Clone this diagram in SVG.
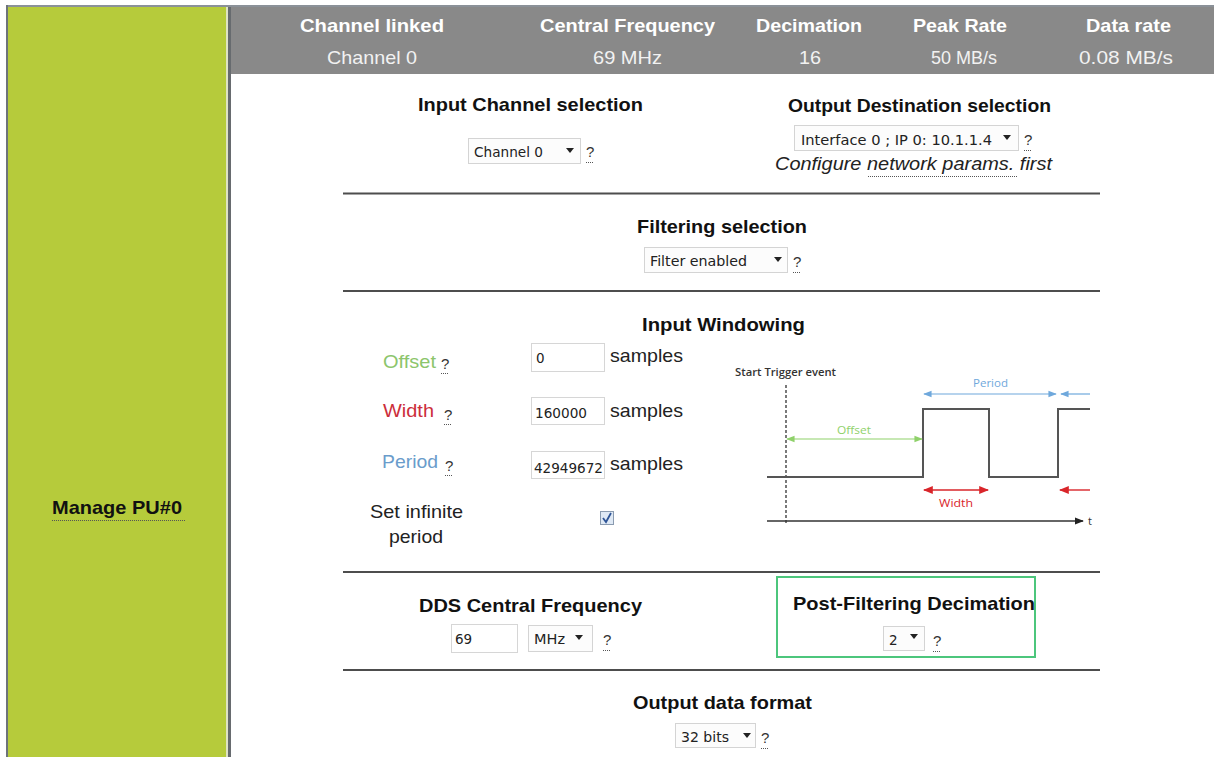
<svg xmlns="http://www.w3.org/2000/svg" width="1214" height="757" viewBox="0 0 1214 757">
<defs>
<style>
text{font-family:"Liberation Sans",Arial,sans-serif}
.hb{font-size:19px;font-weight:bold;fill:#ffffff}
.hr{font-size:19px;fill:#f2f2f2}
.ttl{font-size:19px;font-weight:bold;fill:#111}
.lbl{font-size:19px;fill:#222}
.sel{font-family:"DejaVu Sans",Tahoma,sans-serif;font-size:13.5px;fill:#222}
.q{font-size:15px;fill:#333}
.sep{stroke:#4d4d4d;stroke-width:2}
.box{fill:#fcfcfc;stroke:#d4d4d4;stroke-width:1}
.dot{stroke:#555;stroke-width:1;stroke-dasharray:1 1}
.chart{font-family:"Open Sans","DejaVu Sans",sans-serif;font-size:11px}
.sig{fill:none;stroke:#555;stroke-width:2}
</style>
<marker id="ag" viewBox="0 0 10 10" refX="9" refY="5" markerWidth="7" markerHeight="7" orient="auto-start-reverse"><path d="M0,1 L10,5 L0,9 z" fill="#8fd16a"/></marker>
<marker id="ar" viewBox="0 0 10 10" refX="9" refY="5" markerWidth="7" markerHeight="7" orient="auto-start-reverse"><path d="M0,1 L10,5 L0,9 z" fill="#d9252a"/></marker>
<marker id="ab" viewBox="0 0 10 10" refX="9" refY="5" markerWidth="7" markerHeight="7" orient="auto-start-reverse"><path d="M0,1 L10,5 L0,9 z" fill="#6fa8dc"/></marker>
<marker id="ak" viewBox="0 0 10 10" refX="9" refY="5" markerWidth="7" markerHeight="7" orient="auto"><path d="M0,1 L10,5 L0,9 z" fill="#222"/></marker>
<clipPath id="clipP"><rect x="532" y="452" width="71" height="25"/></clipPath>
</defs>
<rect x="0" y="0" width="1214" height="757" fill="#ffffff"/>
<rect x="6" y="5" width="1208" height="2" fill="#8b9198"/>
<rect x="6" y="5" width="2" height="752" fill="#6e747a"/>
<g id="side-panel">
<rect x="8" y="7" width="218" height="750" fill="#b6cb3b"/>
<rect x="226" y="7" width="2" height="750" fill="#dfe3c4"/>
<rect x="228" y="7" width="3" height="750" fill="#676b6f"/>
<text x="52" y="514" class="ttl" textLength="130" lengthAdjust="spacingAndGlyphs">Manage PU#0</text>
<line x1="52" y1="520.5" x2="185" y2="520.5" class="dot"/>
</g>
<g id="header">
<rect x="231" y="7" width="983" height="67" fill="#898989"/>
<text x="300" y="32" class="hb" textLength="144" lengthAdjust="spacingAndGlyphs">Channel linked</text>
<text x="540" y="32" class="hb" textLength="175" lengthAdjust="spacingAndGlyphs">Central Frequency</text>
<text x="756" y="32" class="hb" textLength="106" lengthAdjust="spacingAndGlyphs">Decimation</text>
<text x="913" y="32" class="hb" textLength="94" lengthAdjust="spacingAndGlyphs">Peak Rate</text>
<text x="1086" y="32" class="hb" textLength="85" lengthAdjust="spacingAndGlyphs">Data rate</text>
<text x="327" y="64" class="hr" textLength="90" lengthAdjust="spacingAndGlyphs">Channel 0</text>
<text x="593" y="64" class="hr" textLength="69" lengthAdjust="spacingAndGlyphs">69 MHz</text>
<text x="799" y="64" class="hr" textLength="22" lengthAdjust="spacingAndGlyphs">16</text>
<text x="931" y="64" class="hr" textLength="66" lengthAdjust="spacingAndGlyphs">50 MB/s</text>
<text x="1079" y="64" class="hr" textLength="94" lengthAdjust="spacingAndGlyphs">0.08 MB/s</text>
</g>
<g id="separators">
<line x1="343" y1="193.5" x2="1100" y2="193.5" class="sep"/>
<line x1="343" y1="291" x2="1100" y2="291" class="sep"/>
<line x1="343" y1="572" x2="1100" y2="572" class="sep"/>
<line x1="343" y1="670" x2="1100" y2="670" class="sep"/>
</g>
<g id="input-channel">
<text x="418" y="111" class="ttl" textLength="225" lengthAdjust="spacingAndGlyphs">Input Channel selection</text>
<rect x="468.5" y="138.5" width="112" height="25" class="box"/>
<text x="474" y="157" class="sel" textLength="69" lengthAdjust="spacingAndGlyphs">Channel 0</text>
<path d="M566,148 L574,148 L570,153 z" fill="#222"/>
<text x="586" y="157" class="q">?</text>
<line x1="586" y1="162.5" x2="594" y2="162.5" class="dot"/>
</g>
<g id="output-destination">
<text x="788" y="112" class="ttl" textLength="263" lengthAdjust="spacingAndGlyphs">Output Destination selection</text>
<rect x="794.5" y="125.5" width="224" height="25" class="box"/>
<text x="801" y="145" class="sel" textLength="191" lengthAdjust="spacingAndGlyphs">Interface 0 ; IP 0: 10.1.1.4</text>
<path d="M1003,135 L1011,135 L1007,140 z" fill="#222"/>
<text x="1024" y="145" class="q">?</text>
<line x1="1024" y1="150.5" x2="1032" y2="150.5" class="dot"/>
<text x="775" y="170" class="lbl" font-style="italic" textLength="277" lengthAdjust="spacingAndGlyphs">Configure network params. first</text>
<line x1="868" y1="176.5" x2="1017" y2="176.5" class="dot"/>
</g>
<g id="filtering">
<text x="637" y="233" class="ttl" textLength="170" lengthAdjust="spacingAndGlyphs">Filtering selection</text>
<rect x="644.5" y="247.5" width="143" height="25" class="box"/>
<text x="650" y="266" class="sel" textLength="97" lengthAdjust="spacingAndGlyphs">Filter enabled</text>
<path d="M774,257 L782,257 L778,262 z" fill="#222"/>
<text x="793" y="267" class="q">?</text>
<line x1="793" y1="272.5" x2="801" y2="272.5" class="dot"/>
</g>
<g id="input-windowing">
<text x="642" y="331" class="ttl" textLength="163" lengthAdjust="spacingAndGlyphs">Input Windowing</text>
<text x="383" y="368" class="lbl" style="fill:#8cc56c" textLength="53" lengthAdjust="spacingAndGlyphs">Offset</text>
<text x="441" y="369" class="q">?</text>
<line x1="441" y1="373.5" x2="449" y2="373.5" class="dot"/>
<rect x="531.5" y="343.5" width="73" height="28" fill="#fff" stroke="#d6d6d6"/>
<text x="536" y="363" class="sel">0</text>
<text x="610" y="362" class="lbl" textLength="73" lengthAdjust="spacingAndGlyphs">samples</text>
<text x="383" y="417" class="lbl" style="fill:#cc2e3b" textLength="51" lengthAdjust="spacingAndGlyphs">Width</text>
<text x="444" y="420" class="q">?</text>
<line x1="444" y1="424.5" x2="452" y2="424.5" class="dot"/>
<rect x="531.5" y="397.5" width="73" height="27" fill="#fff" stroke="#d6d6d6"/>
<text x="535" y="418" class="sel" textLength="52" lengthAdjust="spacingAndGlyphs">160000</text>
<text x="610" y="417" class="lbl" textLength="73" lengthAdjust="spacingAndGlyphs">samples</text>
<text x="382" y="468" class="lbl" style="fill:#6a9ccb" textLength="56" lengthAdjust="spacingAndGlyphs">Period</text>
<text x="445" y="471" class="q">?</text>
<line x1="445" y1="475.5" x2="453" y2="475.5" class="dot"/>
<rect x="531.5" y="451.5" width="73" height="27" fill="#fff" stroke="#d6d6d6"/>
<text x="534" y="473" class="sel" textLength="69" lengthAdjust="spacingAndGlyphs">42949672</text>
<text x="610" y="470" class="lbl" textLength="73" lengthAdjust="spacingAndGlyphs">samples</text>
<text x="370" y="518" class="lbl" textLength="93" lengthAdjust="spacingAndGlyphs">Set infinite</text>
<text x="389" y="543" class="lbl" textLength="54" lengthAdjust="spacingAndGlyphs">period</text>
<rect x="600.5" y="511.5" width="13" height="13" fill="#dfe9f5" stroke="#8a9bb0"/>
<path d="M603,518 L606,522 L611,513" fill="none" stroke="#2f5597" stroke-width="1.8"/>
</g>
<g id="timing-chart">
<text x="735" y="376" class="chart" font-weight="600" fill="#333" textLength="101" lengthAdjust="spacingAndGlyphs">Start Trigger event</text>
<line x1="786" y1="385" x2="786" y2="523" stroke="#222" stroke-width="1.2" stroke-dasharray="3 2"/>
<path d="M767,477 L923,477 L923,409 L989,409 L989,477 L1058,477 L1058,409 L1090,409" class="sig"/>
<line x1="767" y1="521" x2="1083" y2="521" stroke="#333" stroke-width="1.3" marker-end="url(#ak)"/>
<text x="1088" y="525" class="chart" fill="#333">t</text>
<text x="973" y="387" class="chart" fill="#6fa8dc" textLength="35" lengthAdjust="spacingAndGlyphs">Period</text>
<line x1="924" y1="394" x2="1056" y2="394" stroke="#6fa8dc" stroke-width="1.2" marker-start="url(#ab)" marker-end="url(#ab)"/>
<line x1="1090" y1="394" x2="1061" y2="394" stroke="#6fa8dc" stroke-width="1.2" marker-end="url(#ab)"/>
<text x="837" y="434" class="chart" fill="#8fd16a" textLength="34" lengthAdjust="spacingAndGlyphs">Offset</text>
<line x1="787" y1="439" x2="922" y2="439" stroke="#8fd16a" stroke-width="1.2" marker-start="url(#ag)" marker-end="url(#ag)"/>
<line x1="924" y1="490" x2="988" y2="490" stroke="#d9252a" stroke-width="1.4" marker-start="url(#ar)" marker-end="url(#ar)"/>
<line x1="1090" y1="490" x2="1060" y2="490" stroke="#d9252a" stroke-width="1.4" marker-end="url(#ar)"/>
<text x="939" y="507" class="chart" fill="#d9252a" textLength="34" lengthAdjust="spacingAndGlyphs">Width</text>
</g>
<g id="dds-frequency">
<text x="419" y="612" class="ttl" textLength="223" lengthAdjust="spacingAndGlyphs">DDS Central Frequency</text>
<rect x="451.5" y="624.5" width="66" height="28" fill="#fff" stroke="#d6d6d6"/>
<text x="455" y="644" class="sel">69</text>
<rect x="528.5" y="625.5" width="64" height="26" class="box"/>
<text x="534" y="644" class="sel" textLength="31" lengthAdjust="spacingAndGlyphs">MHz</text>
<path d="M575,635 L583,635 L579,640 z" fill="#222"/>
<text x="603" y="645" class="q">?</text>
<line x1="603" y1="650.5" x2="611" y2="650.5" class="dot"/>
</g>
<g id="post-filtering-decimation">
<rect x="777" y="577" width="258" height="80" fill="none" stroke="#4cc67c" stroke-width="2"/>
<text x="793" y="610" class="ttl" textLength="242" lengthAdjust="spacingAndGlyphs">Post-Filtering Decimation</text>
<rect x="883.5" y="626.5" width="41" height="24" class="box"/>
<text x="889" y="645" class="sel">2</text>
<path d="M910,634 L918,634 L914,639 z" fill="#222"/>
<text x="933" y="646" class="q">?</text>
<line x1="933" y1="651.5" x2="941" y2="651.5" class="dot"/>
</g>
<g id="output-format">
<text x="633" y="709" class="ttl" textLength="179" lengthAdjust="spacingAndGlyphs">Output data format</text>
<rect x="675.5" y="723.5" width="80" height="24" class="box"/>
<text x="681" y="742" class="sel" textLength="48" lengthAdjust="spacingAndGlyphs">32 bits</text>
<path d="M743,733 L751,733 L747,738 z" fill="#222"/>
<text x="761" y="743" class="q">?</text>
<line x1="761" y1="748.5" x2="769" y2="748.5" class="dot"/>
</g>
</svg>
